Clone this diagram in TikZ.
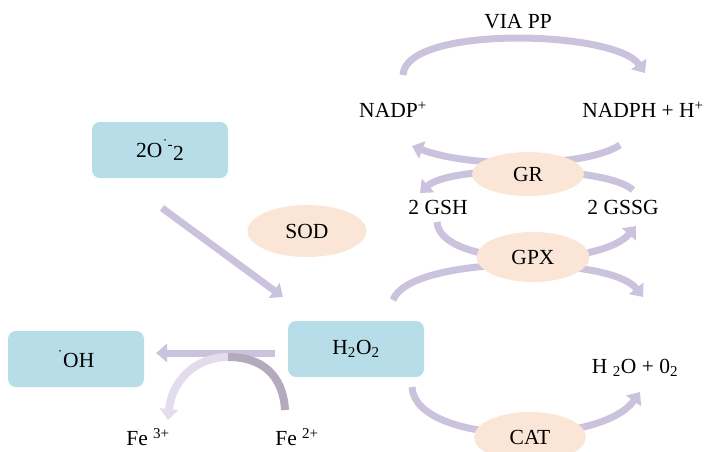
\documentclass[tikz,border=0pt]{standalone}
\usepackage{fontspec}
\setmainfont{Liberation Serif}
\usetikzlibrary{arrows.meta,shapes.geometric,backgrounds}
\definecolor{boxblue}{HTML}{B7DEE8}
\definecolor{peach}{HTML}{FBE5D6}
\definecolor{lav}{HTML}{CBC3DD}
\definecolor{lavdark}{HTML}{B3ABBD}
\definecolor{lavlight}{HTML}{E2DCEC}
\begin{document}
\begin{tikzpicture}[x=1pt,y=-1pt,font=\fontsize{21.5}{24}\selectfont,
  species/.style={rounded corners=8pt,fill=boxblue,minimum width=136pt,minimum height=56pt,inner sep=0pt},
  enzyme/.style={ellipse,fill=peach,minimum width=112pt,minimum height=48pt,inner sep=0pt},
  flow/.style={draw=lav,line width=7pt,-{Triangle[width=18pt,length=11pt]}},
  lbl/.style={inner sep=0pt}]
\useasboundingbox (0,0) rectangle (705,451);

% species boxes
\node[species] (o2) at (160,150) {2O\textsuperscript{\char"02D9-}\raisebox{-3pt}{2}};
\node[species] (h2o2) at (356,349) {H\textsubscript{2}O\textsubscript{2}};
\node[species] (oh) at (76,359) {\textsuperscript{\char"02D9}OH};

% enzymes
\node[enzyme,minimum width=119pt,minimum height=52pt] (sod) at (307,231) {SOD};
\node[enzyme,minimum height=44pt] (gr) at (528,174) {GR};
\node[enzyme,minimum width=113pt,minimum height=50pt] (gpx) at (533,257) {GPX};
\node[enzyme,minimum height=50pt] (cat) at (530,437) {CAT};

% labels
\node[lbl] (viapp) at (518,22) {VIA PP};
\node[lbl] (nadp) at (393,110) {NADP\textsuperscript{+}};
\node[lbl] (nadph) at (643,110) {NADPH + H\textsuperscript{+}};
\node[lbl] (gsh) at (438,207) {2 GSH};
\node[lbl] (gssg) at (623,207) {2 GSSG};
\node[lbl] (water) at (635,368) {H \textsubscript{2}O + 0\textsubscript{2}};
\node[lbl] (fe3) at (148,437) {Fe \textsuperscript{3+}};
\node[lbl] (fe2) at (297,437) {Fe \textsuperscript{2+}};

% connector end points
\coordinate (sodA) at (162,208);
\coordinate (sodB) at (283,297);
\coordinate (ohA) at (275,353);
\coordinate (ohB) at (156,353);
\coordinate (fe2s) at (285,410);
\coordinate (fetop) at (228,357);
\coordinate (fe3e) at (168,420);
\coordinate (ppA) at (403,75);
\coordinate (ppB) at (645,73);
\coordinate (grA) at (620,145);
\coordinate (grB) at (412,146);
\coordinate (grC) at (633,190);
\coordinate (grD) at (420,193);
\coordinate (gpA) at (437,222);
\coordinate (gpB) at (636,226);
\coordinate (gpC) at (393,300);
\coordinate (gpD) at (643,297);
\coordinate (caA) at (412,387);
\coordinate (caB) at (640,392);

\begin{pgfonlayer}{background}
\draw[flow] (sodA) -- (sodB);
\draw[flow] (ohA) -- (ohB);
\draw[draw=lavdark,line width=8pt] (fe2s) .. controls (283,375) and (262,357) .. (fetop);
\draw[flow,draw=lavlight,line width=8pt] (fetop) .. controls (196,357) and (172,380) .. (fe3e);
\draw[flow] (ppA) .. controls (405,25) and (615,30) .. (ppB);
\draw[flow] (grA) .. controls (585,168) and (470,168) .. (grB);
\draw[flow] (grC) .. controls (605,165) and (450,165) .. (grD);
\draw[flow] (gpA) .. controls (440,268) and (600,268) .. (gpB);
\draw[flow] (gpC) .. controls (410,255) and (610,255) .. (gpD);
\draw[flow] (caA) .. controls (415,445) and (600,448) .. (caB);
\end{pgfonlayer}
\end{tikzpicture}
\end{document}
